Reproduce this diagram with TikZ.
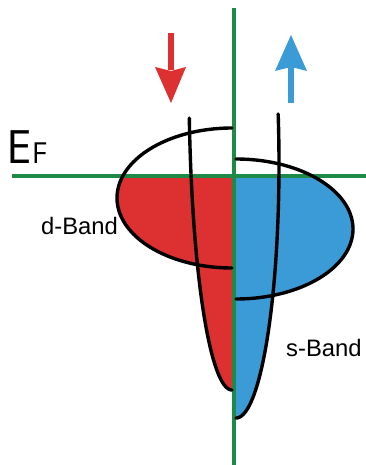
\documentclass[tikz,border=0pt]{standalone}
\usepackage{fontspec}
\setmainfont{Liberation Sans}
\newfontfamily\effont{Open Sans}
\definecolor{dred}{RGB}{221,48,48}
\definecolor{sblue}{RGB}{58,155,215}
\definecolor{axgreen}{RGB}{30,138,72}
\begin{document}
\begin{tikzpicture}[x=1pt,y=-1pt,
  axis/.style={axgreen,line width=3.2pt},
  outline/.style={black,line width=3.4pt,line cap=round},
  bandlabel/.style={anchor=base west,inner sep=0pt,font=\fontsize{23.8}{24}\selectfont},
  cplot/.style={samples=80,smooth,variable=\t}]
\useasboundingbox (0,0) rectangle (366,465);
% fills
\begin{scope}
  \clip (0,176) rectangle (234,465);
  \fill[dred] (232,198) ellipse [x radius=115, y radius=70];
  \fill[dred] plot[cplot,domain=6.9:90] ({232-43*cos(\t)},{81+309*sin(\t)}) -- (234,390) -- (234,118) -- cycle;
\end{scope}
\begin{scope}
  \clip (234,176) rectangle (366,465);
  \fill[sblue] (236,229) ellipse [x radius=117, y radius=70];
  \fill[sblue] plot[cplot,domain=-11.35:90] ({236+43*cos(\t)},{164+254*sin(\t)}) -- (234,418) -- (234,114) -- cycle;
\end{scope}
% axes
\coordinate (vtop) at (234,8);
\coordinate (vbot) at (234,465);
\coordinate (hleft) at (12,176);
\coordinate (hright) at (366,176);
\draw[axis] (vtop) -- (vbot);
\draw[axis] (hleft) -- (hright);
% outlines
\draw[outline] plot[cplot,domain=-90:90] ({232-115*cos(\t)},{198+70*sin(\t)});
\draw[outline] plot[cplot,domain=-90:90] ({236+117*cos(\t)},{229+70*sin(\t)});
\draw[outline] plot[cplot,domain=6.9:90] ({232-43*cos(\t)},{81+309*sin(\t)});
\draw[outline] plot[cplot,domain=-11.35:90] ({236+43*cos(\t)},{164+254*sin(\t)});
% spin arrows
\fill[dred] (168.3,33) rectangle (173.7,70);
\fill[dred] (155,67) -- (171,103) -- (186,67) -- (171,71) -- cycle;
\fill[sblue] (288.3,67) rectangle (293.7,103);
\fill[sblue] (275,71) -- (291,35) -- (307,71) -- (291,67) -- cycle;
% labels
\node[anchor=base west,inner sep=0pt] (ef) at (6,164) {\effont\fontsize{46}{46}\selectfont E{\fontsize{29}{29}\selectfont F}};
\node[bandlabel] (dband) at (41,234) {d-Band};
\node[bandlabel] (sband) at (286,356) {s-Band};
\end{tikzpicture}
\end{document}
